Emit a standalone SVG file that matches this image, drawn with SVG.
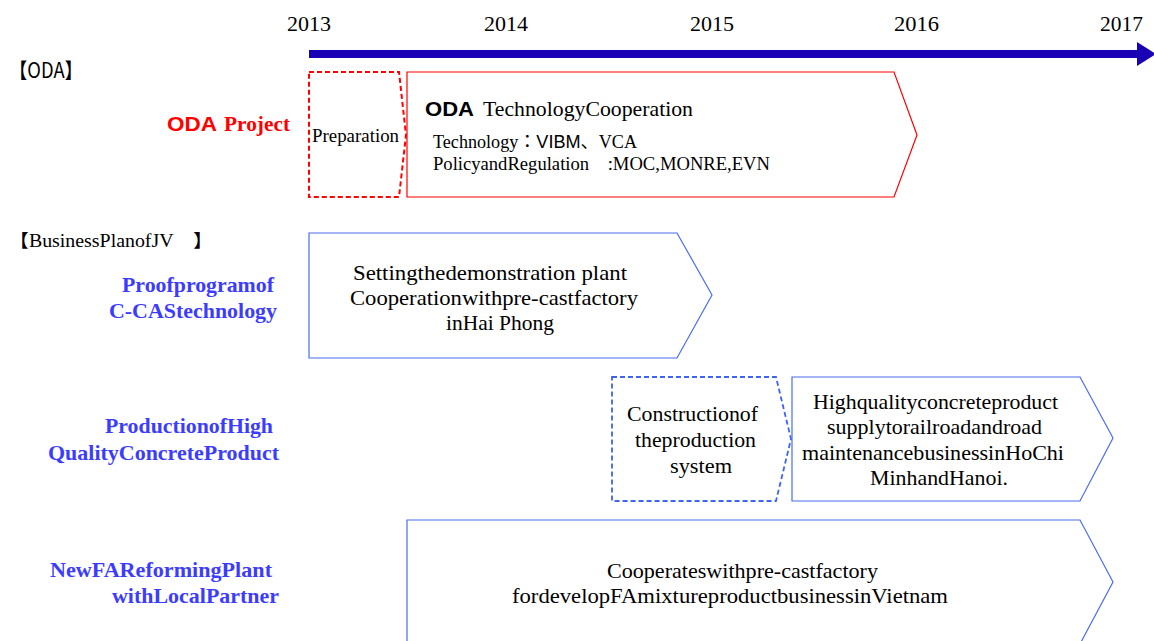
<svg xmlns="http://www.w3.org/2000/svg" width="1154" height="641" viewBox="0 0 1154 641">
  <style>
    .yr { font-family: "Liberation Serif", "Times New Roman", "DejaVu Serif", serif; font-size: 22px; fill: #000; }
    .body { font-family: "Liberation Serif", "Times New Roman", "DejaVu Serif", serif; font-size: 21px; fill: #000; }
    .lbl { font-family: "Liberation Serif", "Times New Roman", "DejaVu Serif", serif; font-size: 21px; font-weight: bold; fill: #3c3cff; }
    .red-solid { fill: #fff; stroke: #ff0000; stroke-width: 1.2; }
    .red-dash { fill: #fff; stroke: #ff0000; stroke-width: 2; stroke-dasharray: 5 3; }
    .blue-solid { fill: #fff; stroke: #4a6cf0; stroke-width: 1.2; }
    .blue-dash { fill: #fff; stroke: #3d63f0; stroke-width: 1.8; stroke-dasharray: 5 3; }
  </style>
  <rect width="1154" height="641" fill="#fff"/>

  <!-- time axis -->
  <g id="timeline">
    <rect x="309" y="50" width="830" height="8" fill="#1a00b4"/>
    <path d="M1137,42 L1156,54 L1137,66 Z" fill="#1a00b4"/>
    <text class="yr" x="287" y="31" textLength="44" lengthAdjust="spacingAndGlyphs">2013</text>
    <text class="yr" x="484" y="31" textLength="44" lengthAdjust="spacingAndGlyphs">2014</text>
    <text class="yr" x="690" y="31" textLength="44" lengthAdjust="spacingAndGlyphs">2015</text>
    <text class="yr" x="894" y="31" textLength="45" lengthAdjust="spacingAndGlyphs">2016</text>
    <text class="yr" x="1100" y="31" textLength="43" lengthAdjust="spacingAndGlyphs">2017</text>
  </g>

  <!-- section headings and row labels -->
  <g id="section-oda">
    <text x="9" y="78" font-family="'Noto Sans CJK JP', 'Noto Sans', sans-serif" font-size="21" fill="#000" textLength="74" lengthAdjust="spacingAndGlyphs">【ODA】</text>
  </g>
  <g id="label-oda-project">
    <text x="167" y="131" fill="#ff0000" font-family="'Liberation Sans', sans-serif" font-weight="bold" font-size="21" textLength="50" lengthAdjust="spacingAndGlyphs">ODA</text>
    <text x="224" y="131" fill="#ff0000" font-family="'Liberation Serif', 'Times New Roman', serif" font-weight="bold" font-size="21" textLength="66" lengthAdjust="spacingAndGlyphs">Project</text>
  </g>
  <g id="section-jv">
    <text x="9" y="247" font-family="'Liberation Serif', 'Noto Sans CJK JP', serif" font-size="18" fill="#000" textLength="204" lengthAdjust="spacingAndGlyphs">【BusinessPlanofJV　】</text>
  </g>
  <g id="label-proof">
    <text class="lbl" x="122" y="292" textLength="152" lengthAdjust="spacingAndGlyphs">Proofprogramof</text>
    <text class="lbl" x="109" y="318" textLength="168" lengthAdjust="spacingAndGlyphs">C-CAStechnology</text>
  </g>
  <g id="label-production">
    <text class="lbl" x="105" y="433" textLength="168" lengthAdjust="spacingAndGlyphs">ProductionofHigh</text>
    <text class="lbl" x="48" y="460" textLength="231" lengthAdjust="spacingAndGlyphs">QualityConcreteProduct</text>
  </g>
  <g id="label-fa">
    <text class="lbl" x="50" y="577" textLength="222" lengthAdjust="spacingAndGlyphs">NewFAReformingPlant</text>
    <text class="lbl" x="112" y="603" textLength="167" lengthAdjust="spacingAndGlyphs">withLocalPartner</text>
  </g>

  <!-- ODA phases -->
  <g id="oda-preparation">
    <path class="red-dash" d="M309,72 L399,72 L406,135 L399,197 L309,197 Z"/>
    <text x="312" y="142" font-family="'Liberation Serif', 'Times New Roman', serif" font-size="18" fill="#000" textLength="87" lengthAdjust="spacingAndGlyphs">Preparation</text>
  </g>
  <g id="oda-cooperation">
    <path class="red-solid" d="M407,72 L894,72 L917,135 L894,197 L407,197 Z"/>
    <text x="425" y="116" font-family="'Liberation Sans', sans-serif" font-weight="bold" font-size="21" fill="#000" textLength="49" lengthAdjust="spacingAndGlyphs">ODA</text>
    <text x="483" y="116" font-family="'Liberation Serif', 'Times New Roman', serif" font-size="21" fill="#000" textLength="210" lengthAdjust="spacingAndGlyphs">TechnologyCooperation</text>
    <text x="433" y="148" font-family="'Liberation Serif', 'Noto Sans CJK JP', serif" font-size="18" fill="#000" textLength="204" lengthAdjust="spacingAndGlyphs">Technology：<tspan font-family="'Liberation Sans', sans-serif">VIBM</tspan>、VCA</text>
    <text x="433" y="170" font-family="'Liberation Serif', 'Noto Sans CJK JP', serif" font-size="18" fill="#000" textLength="337" lengthAdjust="spacingAndGlyphs">PolicyandRegulation　:MOC,MONRE,EVN</text>
  </g>

  <!-- JV business plan -->
  <g id="proof-program">
    <path class="blue-solid" d="M309,233 L677,233 L712,295 L677,358 L309,358 Z"/>
    <text class="body" x="353" y="280" textLength="274" lengthAdjust="spacingAndGlyphs">Settingthedemonstration plant</text>
    <text class="body" x="350" y="305" textLength="288" lengthAdjust="spacingAndGlyphs">Cooperationwithpre-castfactory</text>
    <text class="body" x="446" y="330" textLength="108" lengthAdjust="spacingAndGlyphs">inHai Phong</text>
  </g>
  <g id="production-construction">
    <path class="blue-dash" d="M612,377 L776,377 L791,439 L776,501 L612,501 Z"/>
    <text class="body" x="627" y="421" textLength="131" lengthAdjust="spacingAndGlyphs">Constructionof</text>
    <text class="body" x="635" y="447" textLength="121" lengthAdjust="spacingAndGlyphs">theproduction</text>
    <text class="body" x="670" y="473" textLength="62" lengthAdjust="spacingAndGlyphs">system</text>
  </g>
  <g id="production-supply">
    <path class="blue-solid" d="M792,377 L1080,377 L1113,438 L1080,501 L792,501 Z"/>
    <text class="body" x="813" y="409" textLength="245" lengthAdjust="spacingAndGlyphs">Highqualityconcreteproduct</text>
    <text class="body" x="827" y="434" textLength="215" lengthAdjust="spacingAndGlyphs">supplytorailroadandroad</text>
    <text class="body" x="802" y="460" textLength="262" lengthAdjust="spacingAndGlyphs">maintenancebusinessinHoChi</text>
    <text class="body" x="870" y="485" textLength="138" lengthAdjust="spacingAndGlyphs">MinhandHanoi.</text>
  </g>
  <g id="fa-plant">
    <path class="blue-solid" d="M407,520 L1080,520 L1113,582 L1080,644 L407,644 Z"/>
    <text class="body" x="607" y="578" textLength="271" lengthAdjust="spacingAndGlyphs">Cooperateswithpre-castfactory</text>
    <text class="body" x="512" y="603" textLength="436" lengthAdjust="spacingAndGlyphs">fordevelopFAmixtureproductbusinessinVietnam</text>
  </g>
</svg>
